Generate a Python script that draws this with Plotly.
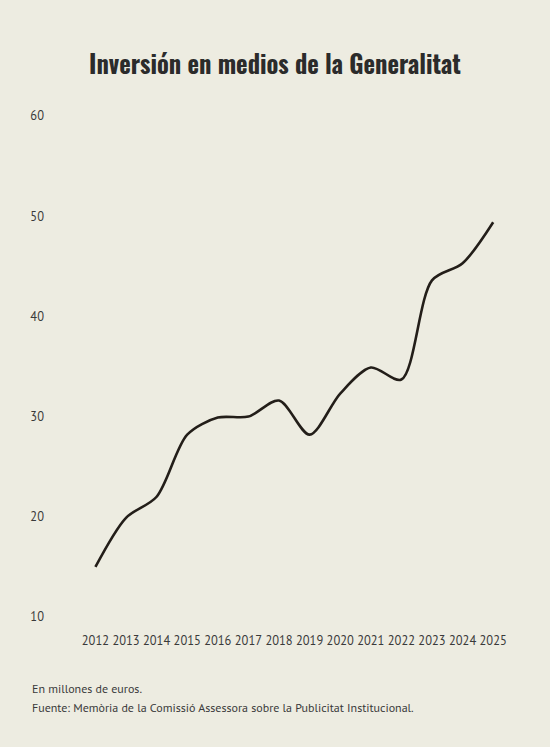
import plotly.graph_objects as go

# datos: inversión en medios (millones de euros)
years = [2012, 2013, 2014, 2015, 2016, 2017, 2018, 2019, 2020, 2021, 2022, 2023, 2024, 2025]
inversion = [15.0, 19.9, 22.0, 28.2, 29.9, 30.0, 31.6, 28.2, 32.3, 34.9, 33.7, 43.6, 45.3, 49.4]
y_ticks = [10, 20, 30, 40, 50, 60]

title_text = "Inversión en medios de la Generalitat"
note_text = "En millones de euros."
source_text = "Fuente: Memòria de la Comissió Assessora sobre la Publicitat Institucional."

bg = "#EDECE1"
body_font = "PT Sans, Lato, Noto Sans, sans-serif"

fig = go.Figure()
fig.add_trace(go.Scatter(
    x=years, y=inversion, mode="lines",
    line=dict(color="#231E19", width=2.6, shape="spline", smoothing=0.85),
    hoverinfo="x+y",
))

fig.update_layout(
    width=550, height=747,
    paper_bgcolor=bg, plot_bgcolor=bg,
    margin=dict(l=48, r=40, t=116, b=130),
    showlegend=False,
    title=dict(text="<b>" + title_text + "</b>", x=0.5, xanchor="center", y=0.912, yanchor="middle",
               font=dict(family="Oswald, Liberation Sans Narrow, DejaVu Sans Condensed, sans-serif",
                         size=24.5, color="#2B2B2B")),
    font=dict(family=body_font, color="#3A3A3A", size=12),
)

fig.update_xaxes(
    range=[2010.45, 2025.55], tickvals=years, ticktext=[str(y) for y in years],
    showgrid=False, zeroline=False, showline=False,
    ticks="outside", ticklen=12, tickcolor="rgba(0,0,0,0)",
    tickfont=dict(size=12.5, color="#3A3A3A"),
)
fig.update_yaxes(
    range=[10, 60], tickvals=y_ticks,
    showgrid=False, zeroline=False, showline=False,
    ticklabelstandoff=3,
    tickfont=dict(size=12.5, color="#3A3A3A"),
)

fig.add_annotation(text=note_text, xref="paper", yref="paper", x=-0.0395, y=-0.142,
                   xanchor="left", yanchor="middle", showarrow=False,
                   font=dict(family=body_font, size=12, color="#3A3A3A"))
fig.add_annotation(text=source_text, xref="paper", yref="paper", x=-0.0395, y=-0.180,
                   xanchor="left", yanchor="middle", showarrow=False,
                   font=dict(family=body_font, size=12, color="#3A3A3A"))

fig.write_html("out.html", config={"displayModeBar": False},
               post_script="document.body.style.margin='0';document.body.style.background='#EDECE1';")
